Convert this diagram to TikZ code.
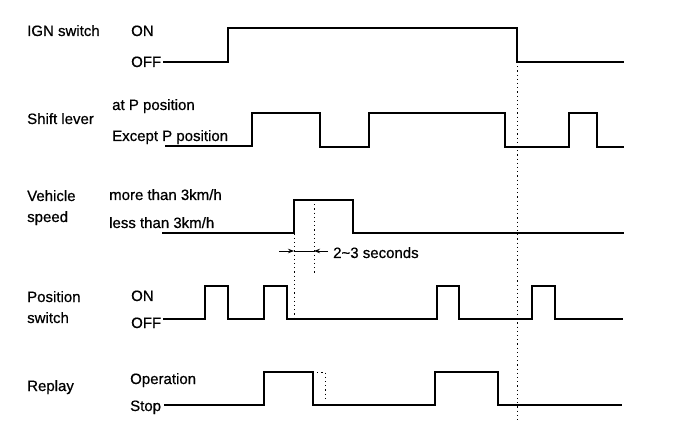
\documentclass[tikz,border=0pt]{standalone}
\usepackage{fontspec}
\setmainfont{Liberation Sans}
\newfontfamily\lblfont{Liberation Sans}[FakeBold=0.6]
\usetikzlibrary{arrows.meta}
\begin{document}
\begin{tikzpicture}[x=1pt,y=-1pt,
  lbl/.style={anchor=base west,inner sep=0pt,font=\lblfont\fontsize{15}{17}\selectfont},
  wave/.style={line width=2pt,line join=miter},
  guide/.style={line width=0.8pt,dash pattern=on 1.2pt off 3pt},
  dimarrow/.style={line width=0.9pt,-{Stealth[length=6pt,width=4.5pt]}}]
\useasboundingbox[fill=white] (0,0) rectangle (688,446);
% labels
\node[lbl] (ign) at (27,36) {IGN switch};
\node[lbl] (ignon) at (131,36) {ON};
\node[lbl] (ignoff) at (131,67) {OFF};
\node[lbl] (shift) at (27,124) {Shift lever};
\node[lbl] (atp) at (112,110) {at P position};
\node[lbl] (exp) at (112,141) {Except P position};
\node[lbl] (veh1) at (27,201) {Vehicle};
\node[lbl] (veh2) at (27,222) {speed};
\node[lbl] (more) at (109,200) {more than 3km/h};
\node[lbl] (less) at (109,228) {less than 3km/h};
\node[lbl] (pos1) at (27,302) {Position};
\node[lbl] (pos2) at (27,323) {switch};
\node[lbl] (poson) at (131,301) {ON};
\node[lbl] (posoff) at (131,328) {OFF};
\node[lbl] (rep) at (27,391) {Replay};
\node[lbl] (oper) at (130,384) {Operation};
\node[lbl] (stop) at (130,411) {Stop};
\node[lbl] (secs) at (333,258) {2\textasciitilde3 seconds};
% waveforms
\draw[wave] (163,62) -- (228,62) -- (228,28) -- (517,28) -- (517,62) -- (624,62);
\draw[wave] (165,146) -- (252,146) -- (252,113) -- (320,113) -- (320,147) -- (369,147) -- (369,113) -- (505,113) -- (505,147) -- (569,147) -- (569,113) -- (597,113) -- (597,147) -- (624,147);
\draw[wave] (162,233) -- (294,233) -- (294,200) -- (353,200) -- (353,233) -- (624,233);
\draw[wave] (163,319) -- (205,319) -- (205,286) -- (228,286) -- (228,319) -- (264,319) -- (264,286) -- (287,286) -- (287,319) -- (437,319) -- (437,286) -- (459,286) -- (459,319) -- (532,319) -- (532,286) -- (555,286) -- (555,319) -- (623,319);
\draw[wave] (164,405) -- (264,405) -- (264,372) -- (313,372) -- (313,405) -- (435,405) -- (435,372) -- (498,372) -- (498,405) -- (622,405);
% guides
\draw[guide] (313,372) -- (325,372) -- (325,400);
\draw[guide] (517,62) -- (517,420);
\draw[guide] (294,200) -- (294,319);
\draw[guide] (314,200) -- (314,275);
% dimension
\coordinate (dl0) at (279,251);
\coordinate (dl1) at (294,251);
\coordinate (dr1) at (314,251);
\coordinate (dr0) at (328,251);
\draw[dimarrow] (dl0) -- (dl1);
\draw[dimarrow] (dr0) -- (dr1);
\draw[line width=0.9pt] (dl1) -- (dr1);
\end{tikzpicture}
\end{document}
